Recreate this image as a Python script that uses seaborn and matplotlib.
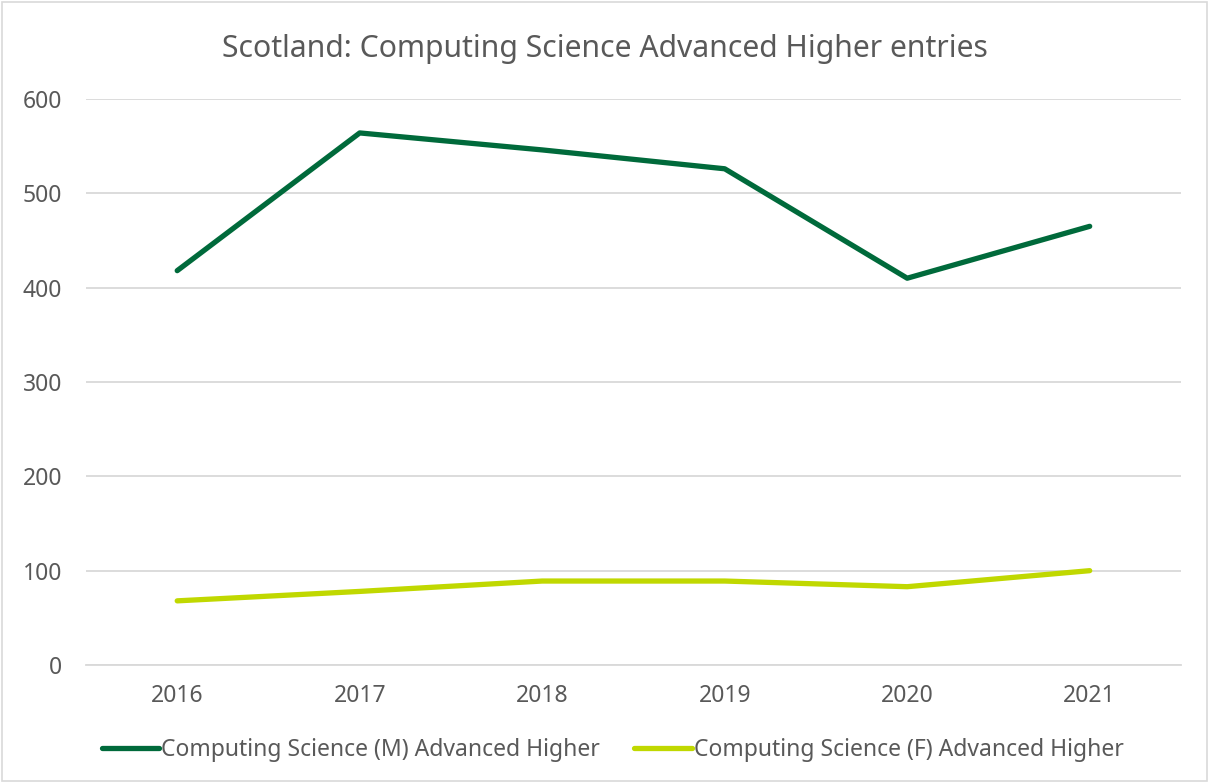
import matplotlib
matplotlib.use("Agg")
import matplotlib.pyplot as plt
import seaborn as sns
import pandas as pd

years = ["2016", "2017", "2018", "2019", "2020", "2021"]
male_entries = [418, 564, 546, 526, 410, 465]
female_entries = [68, 78, 89, 89, 83, 100]
series_names = ["Computing Science (M) Advanced Higher",
                "Computing Science (F) Advanced Higher"]
title = "Scotland: Computing Science Advanced Higher entries"

sns.set_style("white")
plt.rcParams["font.family"] = ["Noto Sans", "DejaVu Sans"]
text_color = "#595959"
palette = {series_names[0]: "#006A3B", series_names[1]: "#C0D800"}

df = pd.DataFrame({
    "Year": years * 2,
    "Entries": male_entries + female_entries,
    "Series": [series_names[0]] * len(years) + [series_names[1]] * len(years),
})

fig = plt.figure(figsize=(12.09, 7.83), dpi=100)
ax = fig.add_axes([0.0711, 0.1507, 0.9057, 0.7229])

sns.lineplot(data=df, x="Year", y="Entries", hue="Series", palette=palette,
             linewidth=3.8, sort=False, ax=ax, legend=True,
             solid_capstyle="round")

ax.set_xlim(-0.5, len(years) - 0.5)
ax.set_ylim(0, 600)
ax.set_yticks(range(0, 601, 100))
ax.grid(axis="y", color="#D9D9D9", linewidth=1.3)
ax.set_axisbelow(True)
for side in ["top", "right", "left"]:
    ax.spines[side].set_visible(False)
ax.spines["bottom"].set_color("#D9D9D9")
ax.spines["bottom"].set_linewidth(1.3)
ax.tick_params(axis="both", length=0, labelsize=16.5, colors=text_color)
ax.tick_params(axis="x", pad=14)
ax.tick_params(axis="y", pad=17)
ax.set_xlabel("")
ax.set_ylabel("")

fig.text(0.5, 0.937, title, ha="center", va="center", fontsize=21.7, color=text_color)

handles, labels = ax.get_legend_handles_labels()
ax.legend(handles, labels, loc="center", bbox_to_anchor=(0.481, -0.15),
          ncol=2, frameon=False, fontsize=16.5, labelcolor=text_color,
          handlelength=2.5, handletextpad=0.1, columnspacing=1.5)

# chart-area border
fig.patches.append(plt.Rectangle((0.0015, 0.002), 0.997, 0.996, transform=fig.transFigure,
                                 fill=False, edgecolor="#D9D9D9", linewidth=1.2))

fig.savefig("out.png", dpi=100, facecolor="white")
